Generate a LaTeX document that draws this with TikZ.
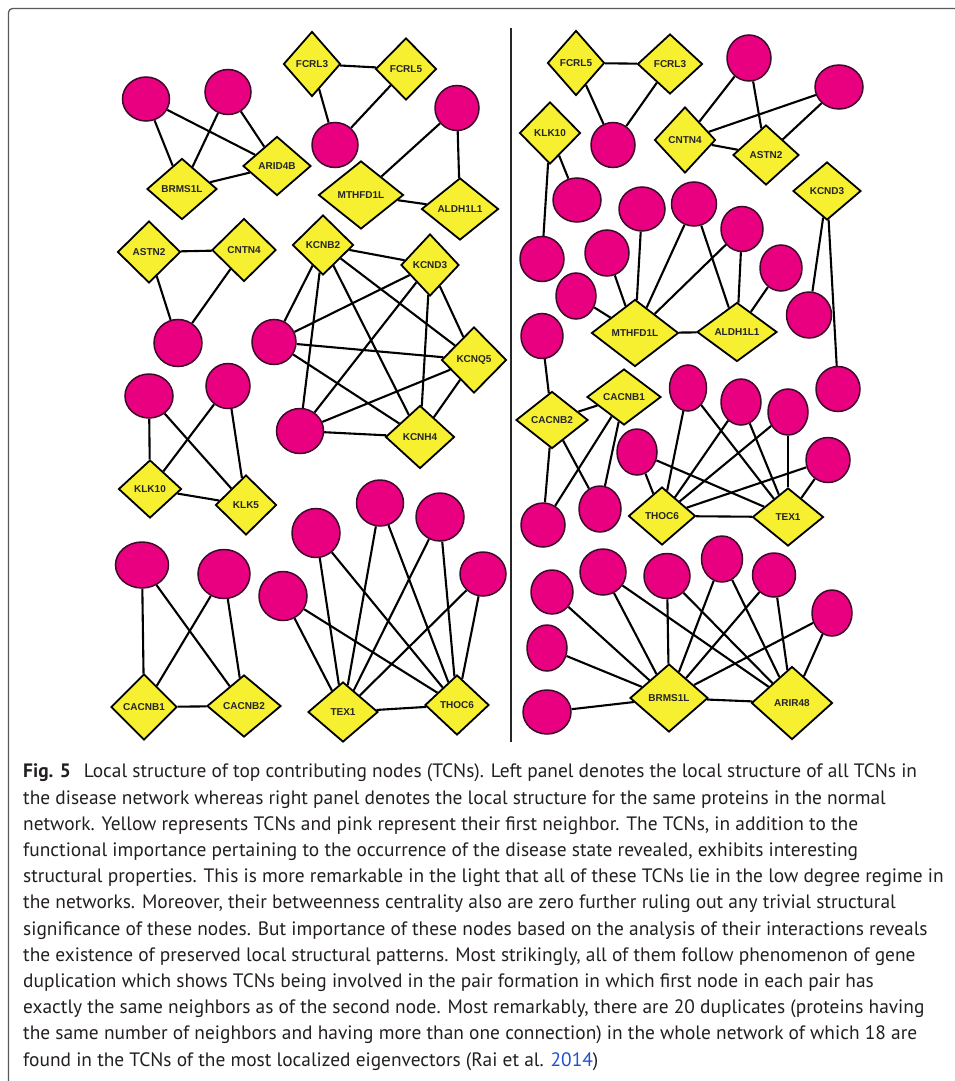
\documentclass[tikz,border=0pt]{standalone}
\usepackage{fontspec}
\usetikzlibrary{shapes.geometric,backgrounds}
\newfontfamily\lblfont{Liberation Sans}
\newfontfamily\capfont{PT Sans}
\definecolor{pinkc}{RGB}{232,0,128}
\definecolor{yelc}{RGB}{246,240,48}
\definecolor{pinkedge}{RGB}{60,10,40}
\definecolor{capcol}{RGB}{35,31,32}
\definecolor{refblue}{RGB}{30,80,210}
\definecolor{framecol}{RGB}{90,90,90}
\tikzset{
  pk/.style 2 args={ellipse, draw=pinkedge, line width=1.5pt, fill=pinkc, minimum width=#1, minimum height=#2, inner sep=0pt},
  tcn/.style 2 args={diamond, draw=black, line width=1.8pt, fill=yelc, minimum width=#1, minimum height=#2, inner sep=0pt,
     font=\lblfont\bfseries\fontsize{10}{11}\selectfont, text=black!85},
  lk/.style={line width=2.1pt, black}
}
\begin{document}
\begin{tikzpicture}[x=1pt,y=-1pt]
\useasboundingbox (0,0) rectangle (954,1081);
% frame
\draw[framecol, line width=1.3pt, rounded corners=4pt] (970,8.5) -- (8.5,8.5) -- (8.5,1095);
% divider
\draw[line width=2.2pt, black!85] (511,28) -- (511,742);

% ---------------- left panel ----------------
\node[pk={47}{44}] (P1) at (146,99) {};
\node[pk={46}{45}] (P2) at (228,92) {};
\node[tcn={57}{65}] (FCRL3L) at (312,64) {FCRL3};
\node[tcn={61}{62}] (FCRL5L) at (406,69) {FCRL5};
\node[tcn={70}{61}] (BRMS1LL) at (182,189) {BRMS1L};
\node[tcn={68}{59}] (ARID4B) at (277,166) {ARID4B};
\node[pk={46}{45}] (P3) at (335,145) {};
\node[pk={44}{45}] (P4) at (457,108) {};
\node[tcn={85}{68}] (MTHL) at (361,195) {MTHFD1L};
\node[tcn={77}{62}] (ALDL) at (460,209) {ALDH1L1};
\node[tcn={63}{62}] (ASTN2L) at (149,252) {ASTN2};
\node[tcn={64}{63}] (CNTN4L) at (244,250) {CNTN4};
\node[pk={48}{47}] (P5) at (178,343) {};
\node[tcn={61}{60}] (KCNB2) at (323,245) {KCNB2};
\node[tcn={58}{62}] (KCND3L) at (430,265) {KCND3};
\node[tcn={65}{66}] (KCNQ5) at (474,360) {KCNQ5};
\node[tcn={69}{63}] (KCNH4) at (420,437) {KCNH4};
\node[pk={44}{45}] (P6) at (274,342) {};
\node[pk={47}{45}] (P7) at (300,431) {};
\node[pk={48}{44}] (P8) at (149,396) {};
\node[pk={44}{45}] (P9) at (228,386) {};
\node[tcn={63}{58}] (KLK10L) at (150,489) {KLK10};
\node[tcn={61}{60}] (KLK5) at (246,505) {KLK5};
\node[pk={53}{46}] (P10) at (142,565) {};
\node[pk={52}{49}] (P11) at (224,574) {};
\node[tcn={66}{66}] (CACNB1L) at (144,707) {CACNB1};
\node[tcn={74}{62}] (CACNB2L) at (244,706) {CACNB2};
\node[pk={48}{49}] (P12) at (283,596) {};
\node[pk={48}{49}] (P13) at (316,533) {};
\node[pk={47}{46}] (P14) at (380,503) {};
\node[pk={48}{48}] (P15) at (440,517) {};
\node[pk={46}{44}] (P16) at (483,574) {};
\node[tcn={70}{60}] (TEX1L) at (343,712) {TEX1};
\node[tcn={64}{60}] (THOC6L) at (457,705) {THOC6};

% ---------------- right panel ----------------
\node[tcn={57}{65}] (FCRL5R) at (576,63) {FCRL5};
\node[tcn={65}{60}] (FCRL3R) at (670,64) {FCRL3};
\node[pk={44}{45}] (R1) at (613,145) {};
\node[tcn={61}{62}] (KLK10R) at (550,133) {KLK10};
\node[pk={48}{44}] (R2) at (577,200) {};
\node[pk={44}{46}] (R3) at (749,58) {};
\node[pk={48}{44}] (R4) at (839,87) {};
\node[tcn={61}{66}] (CNTN4R) at (685,140) {CNTN4};
\node[tcn={66}{60}] (ASTN2R) at (766,155) {ASTN2};
\node[tcn={68}{58}] (KCND3R) at (827,191) {KCND3};
\node[pk={46}{44}] (R6) at (642,209) {};
\node[pk={45}{44}] (R7) at (694,204) {};
\node[pk={42}{45}] (R8) at (742,229) {};
\node[pk={42}{46}] (R9) at (781,268) {};
\node[pk={44}{45}] (R5) at (542,259) {};
\node[pk={44}{46}] (R10) at (607,253) {};
\node[pk={40}{46}] (R11) at (576,296) {};
\node[pk={42}{45}] (R12) at (542,336) {};
\node[pk={45}{46}] (R13) at (809,315) {};
\node[tcn={87}{67}] (MTHR) at (635,333) {MTHFD1L};
\node[tcn={80}{59}] (ALDR) at (737,332) {ALDH1L1};
\node[pk={44}{45}] (R14) at (838,389) {};
\node[tcn={72}{57}] (CACNB2R) at (552,420) {CACNB2};
\node[tcn={74}{56}] (CACNB1R) at (624,397) {CACNB1};
\node[pk={37}{46}] (R15) at (688,388) {};
\node[pk={40}{46}] (R16) at (741,402) {};
\node[pk={40}{46}] (R17) at (788,412) {};
\node[pk={44}{45}] (R18) at (828,460) {};
\node[pk={40}{46}] (R19) at (637,452) {};
\node[pk={44}{44}] (R20) at (543,525) {};
\node[pk={42}{46}] (R21) at (600,509) {};
\node[tcn={67}{58}] (THOC6R) at (662,516) {THOC6};
\node[tcn={71}{58}] (TEX1R) at (788,517) {TEX1};
\node[pk={42}{44}] (R22) at (552,592) {};
\node[pk={46}{46}] (R23) at (603,572) {};
\node[pk={46}{45}] (R24) at (667,576) {};
\node[pk={41}{46}] (R25) at (722,559) {};
\node[pk={43}{44}] (R26) at (774,575) {};
\node[pk={40}{46}] (R27) at (832,613) {};
\node[pk={40}{46}] (R28) at (547,648) {};
\node[pk={48}{44}] (R29) at (547,712) {};
\node[tcn={78}{68}] (BRMS1LR) at (669,698) {BRMS1L};
\node[tcn={81}{73}] (ARIR48) at (792,703) {ARIR48};

\begin{pgfonlayer}{background}
\foreach \a/\b in {P1/BRMS1LL, P1/ARID4B, P2/BRMS1LL, P2/ARID4B, BRMS1LL/ARID4B,
  FCRL3L/FCRL5L, FCRL3L/P3, FCRL5L/P3, P4/MTHL, P4/ALDL, MTHL/ALDL,
  ASTN2L/CNTN4L, ASTN2L/P5, CNTN4L/P5,
  KCNB2/KCND3L, KCNB2/KCNQ5, KCNB2/KCNH4, KCND3L/KCNQ5, KCND3L/KCNH4, KCNQ5/KCNH4,
  P6/KCNB2, P6/KCND3L, P6/KCNQ5, P6/KCNH4, P7/KCNB2, P7/KCND3L, P7/KCNQ5, P7/KCNH4,
  P8/KLK10L, P8/KLK5, P9/KLK10L, P9/KLK5, KLK10L/KLK5,
  P10/CACNB1L, P10/CACNB2L, P11/CACNB1L, P11/CACNB2L, CACNB1L/CACNB2L,
  P12/TEX1L, P12/THOC6L, P13/TEX1L, P13/THOC6L, P14/TEX1L, P14/THOC6L,
  P15/TEX1L, P15/THOC6L, P16/TEX1L, P16/THOC6L, TEX1L/THOC6L,
  FCRL5R/FCRL3R, FCRL5R/R1, FCRL3R/R1, KLK10R/R2, KLK10R/R5,
  R3/CNTN4R, R3/ASTN2R, R4/CNTN4R, R4/ASTN2R, CNTN4R/ASTN2R,
  KCND3R/R13, KCND3R/R14,
  R11/MTHR, R10/MTHR, R6/MTHR, R7/MTHR, R7/ALDR, R8/MTHR, R8/ALDR, R9/ALDR, MTHR/ALDR,
  R12/CACNB2R, CACNB2R/CACNB1R, CACNB2R/R20, CACNB2R/R21, CACNB1R/R20, CACNB1R/R21,
  R15/THOC6R, R15/TEX1R, R16/THOC6R, R16/TEX1R, R17/THOC6R, R17/TEX1R,
  R18/THOC6R, R18/TEX1R, R19/THOC6R, R19/TEX1R, THOC6R/TEX1R,
  R22/BRMS1LR, R28/BRMS1LR, R29/BRMS1LR,
  R23/BRMS1LR, R23/ARIR48, R24/BRMS1LR, R24/ARIR48, R25/BRMS1LR, R25/ARIR48,
  R26/BRMS1LR, R26/ARIR48, R27/BRMS1LR, R27/ARIR48, BRMS1LR/ARIR48}
  \draw[lk] (\a) -- (\b);
\end{pgfonlayer}

% ---------------- caption ----------------
\node[anchor=base west, align=left, inner sep=0pt, text=capcol,
      font=\capfont\fontsize{19.4}{26.2}\selectfont] (cap) at (23,1066) {%
\textbf{Fig. 5}\hspace{0.4em} Local structure of top contributing nodes (TCNs). Left panel denotes the local structure of all TCNs in\\
the disease network whereas right panel denotes the local structure for the same proteins in the normal\\
network. Yellow represents TCNs and pink represent their first neighbor. The TCNs, in addition to the\\
functional importance pertaining to the occurrence of the disease state revealed, exhibits interesting\\
structural properties. This is more remarkable in the light that all of these TCNs lie in the low degree regime in\\
the networks. Moreover, their betweenness centrality also are zero further ruling out any trivial structural\\
significance of these nodes. But importance of these nodes based on the analysis of their interactions reveals\\
the existence of preserved local structural patterns. Most strikingly, all of them follow phenomenon of gene\\
duplication which shows TCNs being involved in the pair formation in which first node in each pair has\\
exactly the same neighbors as of the second node. Most remarkably, there are 20 duplicates (proteins having\\
the same number of neighbors and having more than one connection) in the whole network of which 18 are\\
found in the TCNs of the most localized eigenvectors (Rai et al. \textcolor{refblue}{2014})};
\end{tikzpicture}
\end{document}
